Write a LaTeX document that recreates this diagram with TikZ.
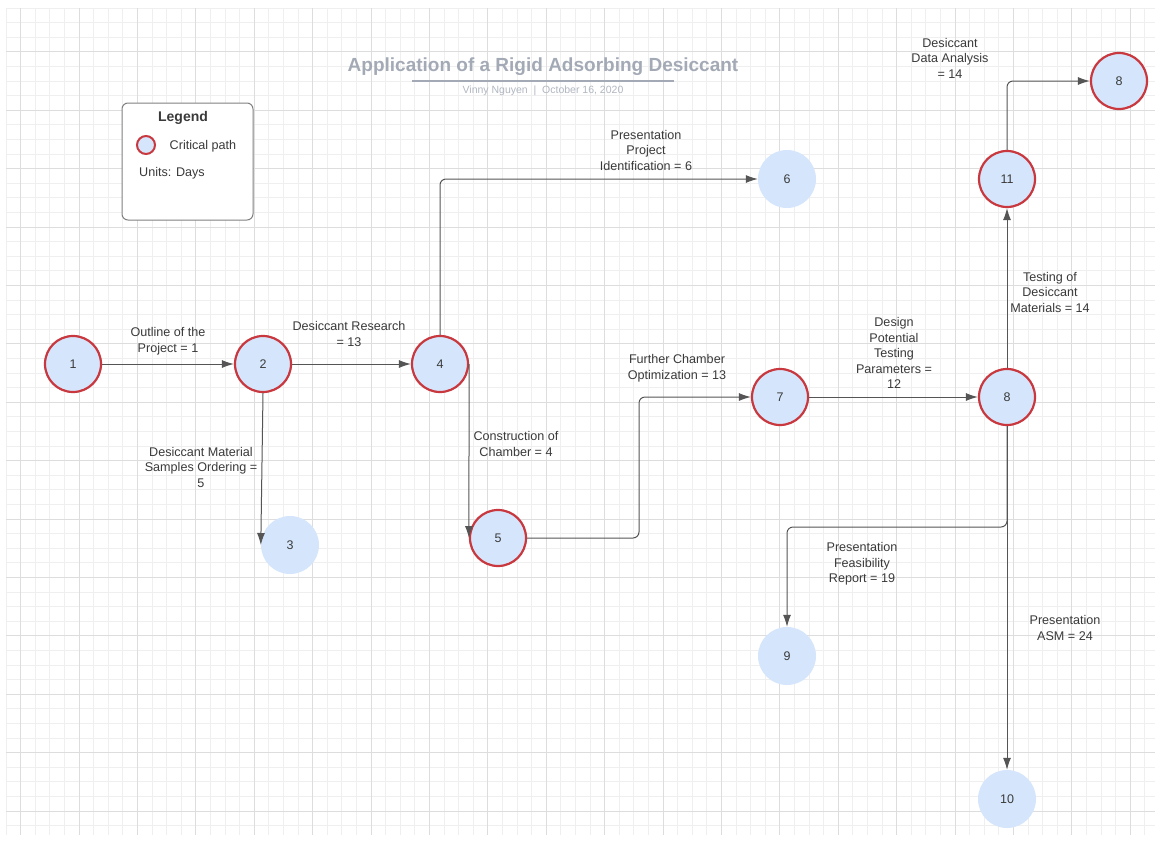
\documentclass[tikz,border=0pt]{standalone}
\usepackage{fontspec}
\setmainfont{Liberation Sans}
\usetikzlibrary{arrows.meta,positioning}
\tikzset{>={Latex[length=12pt,width=8pt]}}
\definecolor{critred}{HTML}{C8383E}
\definecolor{nodeblue}{HTML}{D5E6FC}
\definecolor{linegray}{HTML}{555555}
\definecolor{textgray}{HTML}{3A3A3A}
\definecolor{titlegray}{HTML}{A3AAB6}
\definecolor{gridminor}{HTML}{EFEFEF}
\definecolor{gridmajor}{HTML}{DDDDDD}
\tikzset{
  crit/.style={circle, minimum size=56pt, inner sep=0pt, draw=critred,
               line width=2.2pt, fill=nodeblue, text=textgray,
               font=\fontsize{12.5}{14}\selectfont},
  plain/.style={circle, minimum size=58pt, inner sep=0pt, fill=nodeblue,
                text=textgray, font=\fontsize{12.5}{14}\selectfont},
  lbl/.style={align=center, text=textgray, inner sep=0pt,
              font=\fontsize{12.6}{15.5}\selectfont},
  conn/.style={->, draw=linegray, line width=1pt, rounded corners=6pt},
}

\begin{document}
\begin{tikzpicture}[x=1pt,y=-1pt]
  \useasboundingbox (0,0) rectangle (1159,841);
  \fill[white] (0,0) rectangle (1159,841);
  % grid
  \foreach \i in {0,...,78}
    \draw[gridminor,line width=0.8pt] ({6+\i*14.6},8) -- ({6+\i*14.6},835);
  \foreach \j in {0,...,56}
    \draw[gridminor,line width=0.8pt] (6,{8+\j*14.6}) -- (1155,{8+\j*14.6});
  \foreach \i in {1,5,...,77}
    \draw[gridmajor,line width=0.8pt] ({6+\i*14.6},8) -- ({6+\i*14.6},835);
  \foreach \j in {3,7,...,55}
    \draw[gridmajor,line width=0.8pt] (6,{8+\j*14.6}) -- (1155,{8+\j*14.6});

  % title
  \node[text=titlegray, font=\bfseries\fontsize{19}{21}\selectfont] (title) at (543,67)
    {Application of a Rigid Adsorbing Desiccant};
  \draw[titlegray, line width=2pt] (412,81) -- (674,81);
  \node[text=titlegray!85, font=\fontsize{10.5}{12}\selectfont] (author) at (543,91)
    {Vinny Nguyen~~|~~October 16, 2020};

  % legend
  \node[draw=gray, fill=white, line width=1pt, rounded corners=6pt,
        minimum width=131pt, minimum height=117pt] (legend) at (187.5,161.5) {};
  \node[text=textgray, font=\bfseries\fontsize{14}{16}\selectfont] (legtitle) at (183,118) {Legend};
  \node[circle, draw=critred, line width=2pt, fill=nodeblue, minimum size=18pt,
        inner sep=0pt] (legdot) at (146,145) {};
  \node[lbl] (legcrit) at (203,146) {Critical path};
  \node[lbl] (legunits) at (172,173) {Units: Days};

  % events
  \node[crit]  (n1)  at (73,364)   {1};
  \node[crit]  (n2)  at (263,364)  {2};
  \node[plain] (n3)  at (290,545)  {3};
  \node[crit]  (n4)  at (440,364)  {4};
  \node[crit]  (n5)  at (498,538)  {5};
  \node[plain] (n6)  at (787,179)  {6};
  \node[crit]  (n7)  at (780,397)  {7};
  \node[crit]  (n8)  at (1007,397) {8};
  \node[plain] (n9)  at (787,656)  {9};
  \node[plain] (n10) at (1007,799) {10};
  \node[crit]  (n11) at (1007,179) {11};
  \node[crit]  (n12) at (1119,81)  {8};

  % activities
  \draw[conn] (n1) -- (n2);
  \draw[conn] (n2) -- (n4);
  \draw[conn] (n2.south) -- (n3.west);
  \draw[conn] (n4.north) |- (n6.west);
  \draw[conn] (n4.east) -- (n5.west);
  \draw[conn] (n5.east) -- (639,538) -- (639,397) -- (n7.west);
  \draw[conn] (n7) -- (n8);
  \draw[conn] (n8) -- (n11);
  \draw[conn] (n11.north) |- (n12.west);
  \draw[conn] (n8.south) -- (1007,527) -- (787,527) -- (n9.north);
  \draw[conn] (n8.south) -- (n10.north);

  % activity labels
  \node[lbl] (a12)  at (168,341) {Outline of the\\Project = 1};
  \node[lbl] (a24)  at (349,334) {Desiccant Research\\= 13};
  \node[lbl] (a23)  at (201,467) {Desiccant Material\\Samples Ordering =\\5};
  \node[lbl] (a46)  at (646,150) {Presentation\\Project\\Identification = 6};
  \node[lbl] (a45)  at (516,444) {Construction of\\Chamber = 4};
  \node[lbl] (a57)  at (677,368) {Further Chamber\\Optimization = 13};
  \node[lbl] (a78)  at (894,353) {Design\\Potential\\Testing\\Parameters =\\12};
  \node[lbl] (a811) at (1050,292) {Testing of\\Desiccant\\Materials = 14};
  \node[lbl] (a118) at (950,58)  {Desiccant\\Data Analysis\\= 14};
  \node[lbl] (a89)  at (862,564) {Presentation\\Feasibility\\Report = 19};
  \node[lbl] (a810) at (1065,628) {Presentation\\ASM = 24};
\end{tikzpicture}
\end{document}
